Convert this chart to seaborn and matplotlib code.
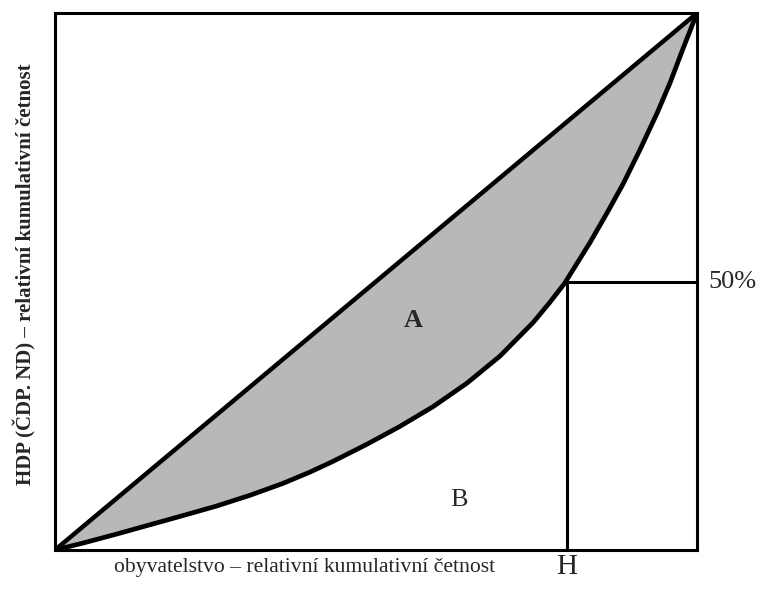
import numpy as np
import pandas as pd
import matplotlib.pyplot as plt
import seaborn as sns

# ---------------------------------------------------------
# data: Lorenz curve (population share vs. cumulative GDP share)
# ---------------------------------------------------------
pop_share = [0.0, 0.044, 0.097, 0.148, 0.199, 0.252, 0.304, 0.355, 0.397, 0.433,
             0.486, 0.537, 0.589, 0.642, 0.693, 0.745, 0.770, 0.794, 0.833, 0.860,
             0.885, 0.911, 0.938, 0.958, 0.978, 1.0]
gdp_share = [0.0, 0.013, 0.030, 0.047, 0.064, 0.082, 0.102, 0.124, 0.145, 0.165,
             0.197, 0.230, 0.267, 0.311, 0.361, 0.424, 0.460, 0.497, 0.572, 0.628,
             0.682, 0.745, 0.814, 0.870, 0.933, 1.0]
equality_x = [0.0, 1.0]
equality_y = [0.0, 1.0]
h_value = 0.797      # population share holding 50 % of GDP
half_level = 0.50

xlabel = 'obyvatelstvo – relativní kumulativní četnost'
ylabel = 'HDP (ČDP. ND) – relativní kumulativní četnost'

df = pd.DataFrame({'x': pop_share, 'y': gdp_share})

sns.set_style('white')
plt.rcParams['font.family'] = ['Liberation Serif', 'DejaVu Serif']

fig = plt.figure(figsize=(7.63, 5.93), dpi=100)
ax = fig.add_axes([0.072, 0.0725, 0.8415, 0.9055])

# shaded area A between equality line and Lorenz curve
ax.fill_between(df['x'], df['y'], df['x'], color='#b8b8b8', lw=0, zorder=1)

sns.lineplot(x=equality_x, y=equality_y, color='black', lw=3.2, ax=ax, zorder=3)
sns.lineplot(data=df, x='x', y='y', color='black', lw=3.4, ax=ax, zorder=3, sort=False,
             solid_joinstyle='round', solid_capstyle='round')

# H / 50 % guide lines
ax.plot([h_value, h_value], [0, half_level], color='black', lw=2.2, zorder=2)
ax.plot([h_value, 1.0], [half_level, half_level], color='black', lw=2.2, zorder=2)

ax.set_xlim(0, 1)
ax.set_ylim(0, 1)
ax.set_xticks([])
ax.set_yticks([])
ax.set_xlabel('')
ax.set_ylabel('')
for s in ax.spines.values():
    s.set_color('black')
    s.set_linewidth(2.2)

# labels
ax.text(0.558, 0.428, 'A', fontsize=19, fontweight='bold', ha='center', va='center')
ax.text(0.63, 0.093, 'B', fontsize=19, ha='center', va='center')
ax.text(1.017, half_level, '50%', fontsize=19, ha='left', va='center', transform=ax.transAxes)
ax.text(h_value, -0.032, 'H', fontsize=21, ha='center', va='center', transform=ax.transAxes)
ax.text(0.389, -0.032, xlabel, fontsize=15.6, ha='center', va='center', transform=ax.transAxes)
ax.text(-0.047, 0.514, ylabel, fontsize=15, fontweight='bold', rotation=90,
        ha='center', va='center', transform=ax.transAxes)

plt.savefig('out.png', dpi=100)
